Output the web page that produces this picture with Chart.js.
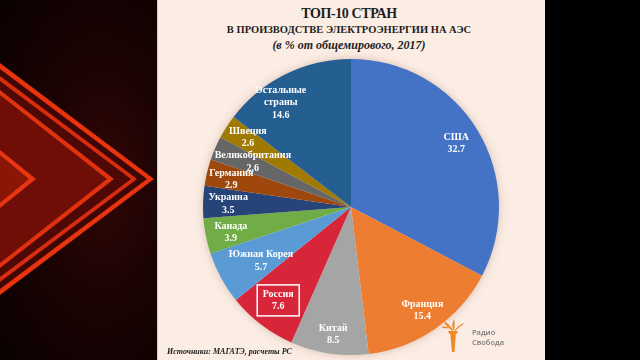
<!DOCTYPE html>
<html><head><meta charset="utf-8">
<script src="https://cdn.jsdelivr.net/npm/chart.js@4/dist/chart.umd.min.js"></script>
<style>
html,body{margin:0;padding:0;width:640px;height:360px;overflow:hidden;background:#000;}
#left{position:absolute;left:0;top:0;width:157px;height:360px;background:radial-gradient(ellipse at 65% 50%, #320707 0%, #1c0303 45%, #0a0101 100%);overflow:hidden;}
#panel{position:absolute;left:157px;top:0;width:388px;height:360px;background:#FBEDE4;border-left:1px solid #d9d0ca;box-sizing:border-box;}
#chartBox{position:absolute;left:158px;top:0;width:387px;height:360px;}
.tt{position:absolute;left:0;width:698px;text-align:center;font-family:"Liberation Serif","DejaVu Serif",serif;color:#1e1e1e;white-space:nowrap;}
#t1{top:6px;font-size:14px;font-weight:bold;letter-spacing:-0.4px;}
#t2{top:24px;font-size:10.5px;font-weight:bold;}
#t3{top:38px;font-size:12px;font-weight:bold;font-style:italic;}
#src{position:absolute;left:167px;top:347px;font-family:"Liberation Serif",serif;font-size:8px;font-weight:bold;font-style:italic;color:#222;}
#logoTxt{position:absolute;left:472px;top:327px;font-family:"Open Sans","Liberation Sans",sans-serif;font-size:7.5px;line-height:10px;color:#7b7b7b;font-weight:600;}
#logo{position:absolute;left:440px;top:318px;}
</style></head>
<body>
<div id="left">
<svg width="157" height="360">
  <polygon points="0,63 154,179 0,295" fill="#e8330f"/>
  <polygon points="0,69 147,179 0,289" fill="#3e0604"/>
  <polygon points="0,76 137,179 0,282" fill="#d82c0e"/>
  <polygon points="0,81 131,179 0,277" fill="#4e0805"/>
  <polygon points="0,90 114,179 0,268" fill="#e0320f"/>
  <polygon points="0,95 107,179 0,263" fill="#6e0e06"/>
  <polygon points="0,150 36,179 0,208" fill="#e83612"/>
  <polygon points="0,155 29,179 0,203" fill="#8a1607"/>
</svg>
</div>
<div id="panel"></div>
<div class="tt" id="t1">ТОП-10 СТРАН</div>
<div class="tt" id="t2">В ПРОИЗВОДСТВЕ ЭЛЕКТРОЭНЕРГИИ НА АЭС</div>
<div class="tt" id="t3">(в % от общемирового, 2017)</div>
<div id="chartBox"><canvas id="c" width="387" height="360"></canvas></div>
<div id="src">Источники: МАГАТЭ, расчеты РС</div>
<svg id="logo" width="30" height="36" viewBox="0 0 30 36">
  <path d="M10 14 L16 14 L14.5 34 L12 34 Z" fill="#F0892A"/>
  <path d="M8 13 L18 13 L16.5 16 L9.5 16 Z" fill="#F0892A"/>
  <path d="M12 13 C8 9 5 7 3 2 C7 5 10 7 13 12 Z" fill="#F0892A"/>
  <path d="M13 12 C12 8 12 5 14 1 C15 5 15 8 14 12 Z" fill="#F0892A"/>
  <path d="M14 13 C17 9 20 6 25 5 C21 8 18 10 15 13 Z" fill="#F0892A"/>
  <path d="M10 10 C7 10 4 11 1 9 C4 8 7 8 11 11 Z" fill="#F0892A"/>
</svg>
<div id="logoTxt">Радио<br>Свобода</div>
<script>
// ---- data ----
const categories = ['США','Франция','Китай','Россия','Южная Корея','Канада','Украина','Германия','Великобритания','Швеция',['Остальные','страны']];
const shares = [32.7, 15.4, 8.5, 7.6, 5.7, 3.9, 3.5, 2.9, 2.6, 2.6, 14.6];
// ---- styles ----
const sliceColors = ['#4472C4','#ED7D31','#A5A5A5','#D7263A','#5B9BD5','#70AD47','#264478','#9E480E','#666666','#A07A00','#255E91'];
const labelRadius = [0.83,0.85,0.87,0.80,0.71,0.83,0.83,0.83,0.73,0.84,0.85];
const labelNudgeDeg = [0,0,-0.5,0.5,-2.4,-0.7,-0.6,-0.5,1.3,1.2,-7.7];
const boxedIndex = 3;

const sliceLabels = {
  id:'sliceLabels',
  beforeDatasetsDraw(chart){
    const ctx = chart.ctx;
    const a = chart.getDatasetMeta(0).data[0];
    if(!a) return;
    const p = a.getProps(['x','y','outerRadius'], true);
    ctx.save();
    ctx.shadowColor='rgba(120,70,40,0.35)';
    ctx.shadowBlur=10;
    ctx.fillStyle='#FBEDE4';
    ctx.beginPath(); ctx.arc(p.x,p.y,p.outerRadius-1,0,Math.PI*2); ctx.fill();
    ctx.restore();
  },
  afterDatasetsDraw(chart){
    const ctx = chart.ctx;
    const meta = chart.getDatasetMeta(0);
    ctx.save();
    ctx.fillStyle='#ffffff';
    ctx.textAlign='center';
    ctx.textBaseline='middle';
    ctx.font='bold 10px "Liberation Serif", serif';
    meta.data.forEach((arc,i)=>{
      const p = arc.getProps(['x','y','startAngle','endAngle','outerRadius'], true);
      const mid = (p.startAngle+p.endAngle)/2 + labelNudgeDeg[i]*Math.PI/180;
      const r = p.outerRadius*labelRadius[i];
      const lx = p.x+Math.cos(mid)*r, ly = p.y+Math.sin(mid)*r;
      const name = Array.isArray(categories[i]) ? categories[i] : [categories[i]];
      const lines = name.concat([shares[i].toFixed(1)]);
      const lh = 12.5;
      const y0 = ly - (lines.length-1)*lh/2;
      lines.forEach((t,k)=>ctx.fillText(t, lx, y0+k*lh));
      if(i===boxedIndex){
        ctx.strokeStyle='#ffffff'; ctx.lineWidth=1.5;
        ctx.strokeRect(lx-21, ly-15.5, 42, 31);
      }
    });
    ctx.restore();
  }
};

new Chart(document.getElementById('c'), {
  type:'pie',
  data:{ labels: categories, datasets:[{ data: shares, backgroundColor: sliceColors, borderWidth:0 }] },
  options:{
    responsive:false, maintainAspectRatio:false, animation:false, devicePixelRatio:1,
    layout:{ padding:{ left:45, right:46, top:59, bottom:5 } },
    plugins:{ legend:{display:false}, tooltip:{enabled:false}, title:{display:false} }
  },
  plugins:[sliceLabels]
});
</script>
</body></html>
